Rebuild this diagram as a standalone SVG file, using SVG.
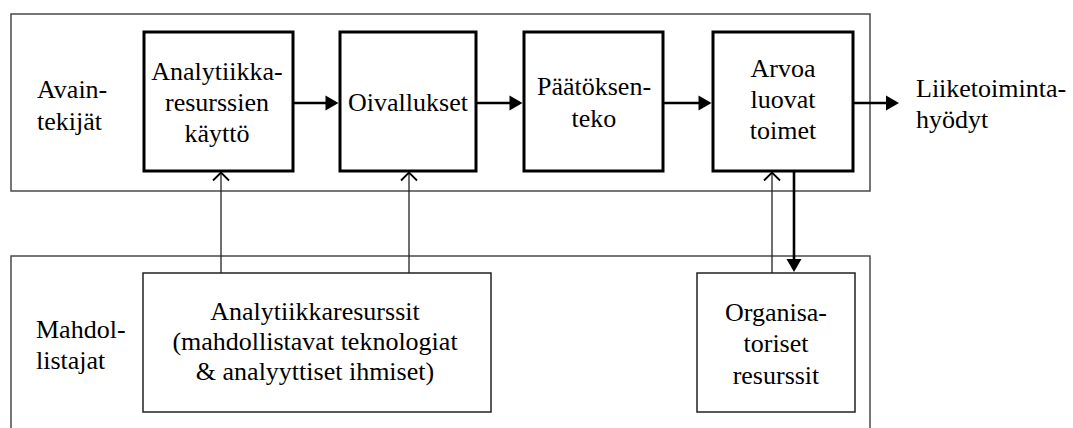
<svg xmlns="http://www.w3.org/2000/svg" width="1073" height="428" viewBox="0 0 1073 428">
  <style>
    .frame { fill: none; stroke: #4a4a4a; stroke-width: 1.5; }
    .step { fill: #fff; stroke: #000; stroke-width: 3; }
    .res { fill: #fff; stroke: #222; stroke-width: 1.5; }
    .lbl { font-family: 'Liberation Serif', 'Times New Roman', serif; font-size: 26px; fill: #000; }
    .mid { text-anchor: middle; }
    .flow { fill: none; stroke: #000; stroke-width: 2.6; }
    .link { fill: none; stroke: #222; stroke-width: 1.3; }
  </style>
  <defs>
    <marker id="solid" markerUnits="userSpaceOnUse" markerWidth="14" markerHeight="16" refX="3" refY="7.5" orient="auto" overflow="visible">
      <path d="M0,0 L13,7.5 L0,15 z" fill="#000"/>
    </marker>
    <marker id="open" markerUnits="userSpaceOnUse" markerWidth="10" markerHeight="18" refX="8" refY="8" orient="auto" overflow="visible">
      <path d="M0,0 L8,8 L0,16" fill="none" stroke="#000" stroke-width="1.8"/>
    </marker>
  </defs>

  <!-- layer frames -->
  <rect class="frame" x="11" y="14" width="859" height="177"/>
  <rect class="frame" x="11" y="256" width="859" height="200"/>

  <!-- layer titles -->
  <g id="avaintekijat">
    <text class="lbl" x="37" y="98">Avain-</text>
    <text class="lbl" x="37" y="130">tekijät</text>
  </g>
  <g id="mahdollistajat">
    <text class="lbl" x="36" y="338">Mahdol-</text>
    <text class="lbl" x="36" y="369">listajat</text>
  </g>

  <!-- connectors -->
  <g id="connectors">
    <line class="flow" x1="293" y1="103" x2="328.5" y2="103" marker-end="url(#solid)"/>
    <line class="flow" x1="476" y1="103" x2="512.5" y2="103" marker-end="url(#solid)"/>
    <line class="flow" x1="663" y1="103" x2="701.5" y2="103" marker-end="url(#solid)"/>
    <line class="flow" x1="853" y1="103" x2="889" y2="103" marker-end="url(#solid)"/>
    <line class="flow" x1="794" y1="171" x2="794" y2="262" marker-end="url(#solid)"/>
    <line class="link" x1="221" y1="273" x2="221" y2="172.5" marker-end="url(#open)"/>
    <line class="link" x1="409" y1="273" x2="409" y2="172.5" marker-end="url(#open)"/>
    <line class="link" x1="772" y1="273" x2="772" y2="172.5" marker-end="url(#open)"/>
  </g>

  <!-- process steps -->
  <g id="kaytto">
    <rect class="step" x="144" y="32" width="149" height="139"/>
    <text class="lbl mid" x="217" y="80">Analytiikka-</text>
    <text class="lbl mid" x="217" y="111">resurssien</text>
    <text class="lbl mid" x="217" y="142">käyttö</text>
  </g>
  <g id="oivallukset">
    <rect class="step" x="340" y="32" width="136" height="139"/>
    <text class="lbl mid" x="408" y="111">Oivallukset</text>
  </g>
  <g id="paatoksenteko">
    <rect class="step" x="524" y="32" width="139" height="139"/>
    <text class="lbl mid" x="594" y="95">Päätöksen-</text>
    <text class="lbl mid" x="594" y="127">teko</text>
  </g>
  <g id="toimet">
    <rect class="step" x="713" y="32" width="140" height="139"/>
    <text class="lbl mid" x="783" y="77">Arvoa</text>
    <text class="lbl mid" x="783" y="108">luovat</text>
    <text class="lbl mid" x="783" y="139">toimet</text>
  </g>
  <g id="hyodyt">
    <text class="lbl" x="916" y="97">Liiketoiminta-</text>
    <text class="lbl" x="916" y="128">hyödyt</text>
  </g>

  <!-- enabling resources -->
  <g id="analytiikkaresurssit">
    <rect class="res" x="143" y="273" width="348" height="139"/>
    <text class="lbl mid" x="315" y="320">Analytiikkaresurssit</text>
    <text class="lbl mid" x="315" y="350">(mahdollistavat teknologiat</text>
    <text class="lbl mid" x="315" y="380">&amp; analyyttiset ihmiset)</text>
  </g>
  <g id="organisatoriset">
    <rect class="res" x="697" y="273" width="158" height="139"/>
    <text class="lbl mid" x="776" y="321">Organisa-</text>
    <text class="lbl mid" x="776" y="352">toriset</text>
    <text class="lbl mid" x="776" y="384">resurssit</text>
  </g>
</svg>
